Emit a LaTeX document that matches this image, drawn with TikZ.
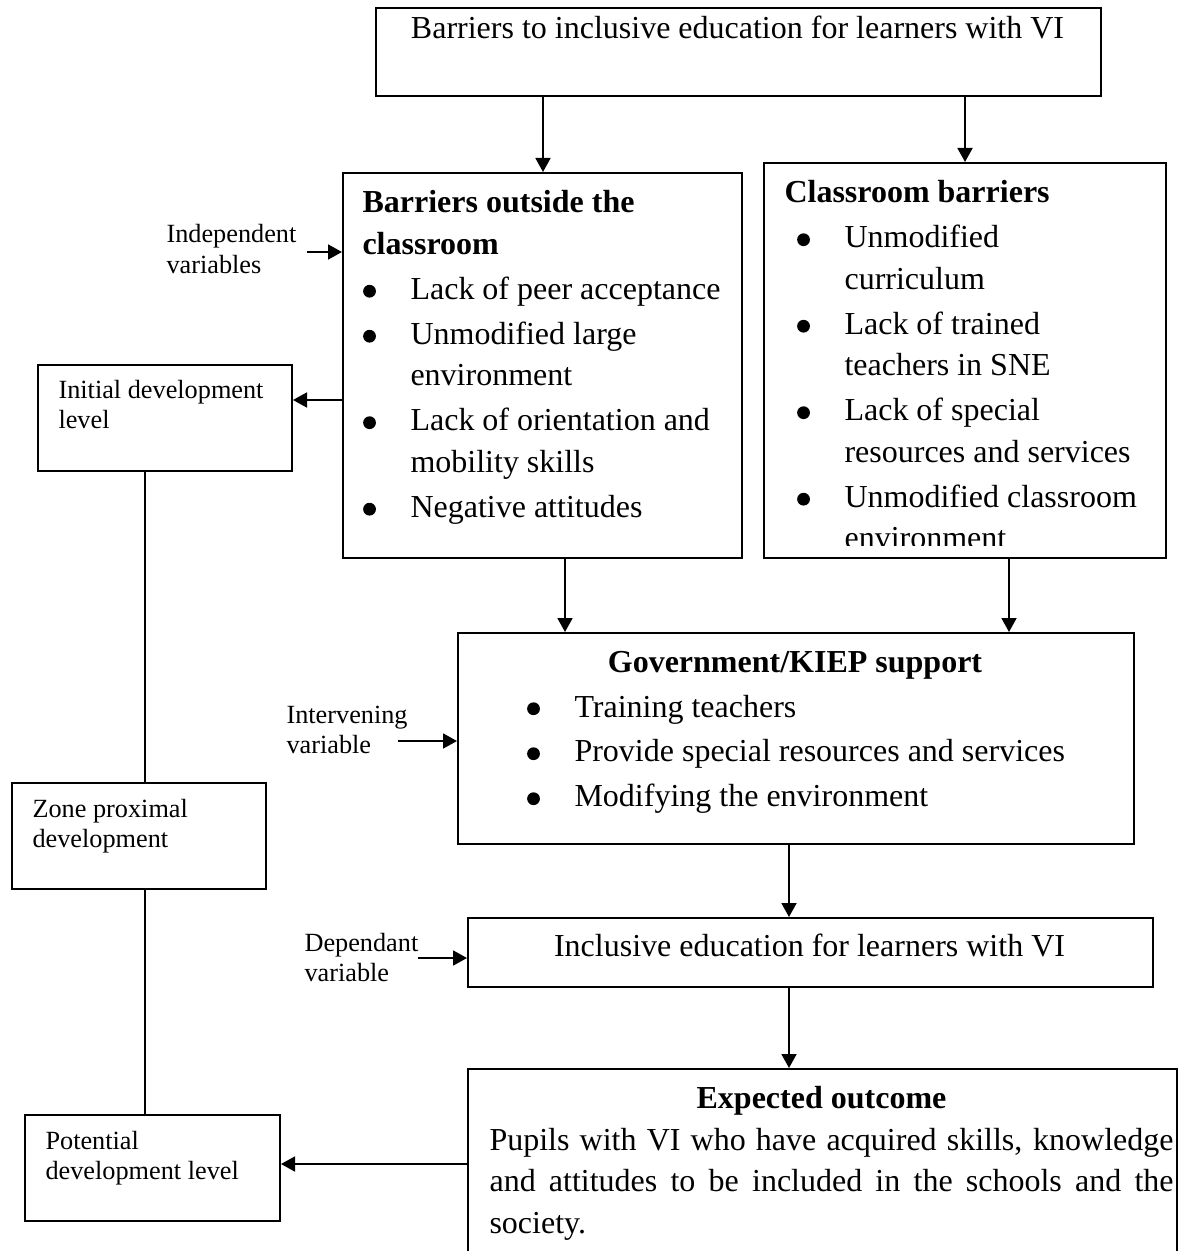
\documentclass[tikz,border=0pt]{standalone}
\usepackage{fontspec}
\setmainfont{Liberation Serif}
\usetikzlibrary{arrows.meta}

\newlength\pxu
\setlength\pxu{0.375pt}
\newcommand{\mainfnt}{\fontsize{12}{15.56}\selectfont}
\newcommand{\smallfnt}{\fontsize{9.85}{11.4}\selectfont}
\newcommand{\dotmark}{\tikz[baseline=-3.1pt]\fill (0,0) circle (2.4pt);}
\newcommand{\blt}[2][7]{\par\noindent\hangindent=\dimexpr#1\pxu+41\pxu\relax\hangafter=1
  \makebox[\dimexpr#1\pxu+41\pxu\relax][l]{\hspace*{#1\pxu}\makebox[0pt]{\dotmark}}#2}

\tikzset{
  box/.style={draw, line width=0.75pt, inner sep=0pt, anchor=north west},
  boxsize/.style 2 args={minimum width=#1*0.375pt, minimum height=#2*0.375pt},
  txt/.style={inner sep=0pt, anchor=base west, font=\mainfnt},
  lbl/.style={inner sep=0pt, anchor=base west, font=\smallfnt},
  arr/.style={line width=0.75pt, -{Triangle[length=5.25pt,width=5.6pt]}},
  link/.style={line width=0.75pt}
}

\begin{document}
\begin{tikzpicture}[x=0.375pt,y=-0.375pt]
\useasboundingbox (0,0) rectangle (1179,1251);

\node[box,boxsize={725}{88}] (barriers) at (375,7) {};
\node[box,boxsize={399}{385}] (outside) at (342,172) {};
\node[box,boxsize={402}{395}] (classroom) at (763,162) {};
\node[box,boxsize={676}{211}] (support) at (457,632) {};
\node[box,boxsize={685}{69}] (inclusive) at (467,917) {};
\node[box,boxsize={709}{200}] (outcome) at (467,1068) {};
\node[box,boxsize={254}{106}] (initial) at (37,364) {};
\node[box,boxsize={254}{106}] (zone) at (11,782) {};
\node[box,boxsize={255}{106}] (potential) at (24,1114) {};

\node[txt,anchor=base] (barrierstext) at (737.5,39) {Barriers to inclusive education for learners with VI};
\node[txt] (outsidetext) at (362,213) {\parbox[t]{372\pxu}{\raggedright\setlength{\parskip}{3.5\pxu}%
\textbf{Barriers outside the\newline classroom}
\blt{Lack of peer acceptance}
\blt{Unmodified large\newline environment}
\blt{Lack of orientation and\newline mobility skills}
\blt{Negative attitudes}}};
\begin{scope}
\clip (763,162) rectangle (1165,545);
\node[txt] (classroomtext) at (784,203) {\parbox[t]{375\pxu}{\raggedright\setlength{\parskip}{3.5\pxu}%
\textbf{Classroom barriers}
\blt[19]{Unmodified\newline curriculum}
\blt[19]{Lack of trained\newline teachers in SNE}
\blt[19]{Lack of special\newline resources and services}
\blt[19]{Unmodified classroom\newline environment}}};
\end{scope}
\node[txt,anchor=base,font=\mainfnt\bfseries] (supporttitle) at (795,672) {Government/KIEP support};
\node[txt] (supporttext) at (526,717) {\parbox[t]{560\pxu}{\raggedright\setlength{\parskip}{3.5\pxu}%
\blt{Training teachers}
\blt{Provide special resources and services}
\blt{Modifying the environment}}};
\node[txt,anchor=base] (inclusivetext) at (809.5,956) {Inclusive education for learners with VI};
\node[txt,anchor=base,font=\mainfnt\bfseries] (outcometitle) at (821.5,1108) {Expected outcome};
\node[txt] (outcometext) at (489,1150) {\parbox[t]{684\pxu}{\tolerance=9999\hbadness=10000
Pupils with VI who have acquired skills, knowledge\linebreak{} and attitudes to be included in the schools and the\linebreak{} society.}};

\node[lbl] (initialtext) at (58,398) {\parbox[t]{230\pxu}{\raggedright Initial development\newline level}};
\node[lbl] (zonetext) at (32,817) {\parbox[t]{230\pxu}{\raggedright Zone proximal\newline development}};
\node[lbl] (potentialtext) at (45,1149) {\parbox[t]{230\pxu}{\raggedright Potential\newline development level}};
\node[lbl] (indeptext) at (166,243) {\parbox[t]{140\pxu}{\raggedright Independent\newline variables}};
\node[lbl] (intervtext) at (286,723) {\parbox[t]{140\pxu}{\raggedright Intervening\newline variable}};
\node[lbl] (dependtext) at (304,951) {\parbox[t]{140\pxu}{\raggedright Dependant\newline variable}};

\coordinate (xa) at (543,0);
\coordinate (xb) at (965,0);
\coordinate (xc) at (565,0);
\coordinate (xd) at (1009,0);
\coordinate (xe) at (789,0);
\coordinate (spine) at (145,0);
\coordinate (ya) at (0,400);
\coordinate (yb) at (0,1164);
\coordinate (indep) at (307,252);
\coordinate (interv) at (398,741);
\coordinate (depend) at (418,958);

\draw[arr] (barriers.south -| xa) -- (outside.north -| xa);
\draw[arr] (barriers.south -| xb) -- (classroom.north -| xb);
\draw[arr] (outside.south -| xc) -- (support.north -| xc);
\draw[arr] (classroom.south -| xd) -- (support.north -| xd);
\draw[arr] (support.south -| xe) -- (inclusive.north -| xe);
\draw[arr] (inclusive.south -| xe) -- (outcome.north -| xe);

\draw[arr] (outside.west |- ya) -- (initial.east |- ya);
\draw[arr] (outcome.west |- yb) -- (potential.east |- yb);
\draw[arr] (indep) -- (indep -| outside.west);
\draw[arr] (interv) -- (interv -| support.west);
\draw[arr] (depend) -- (depend -| inclusive.west);

\draw[link] (initial.south -| spine) -- (zone.north -| spine);
\draw[link] (zone.south -| spine) -- (potential.north -| spine);
\end{tikzpicture}
\end{document}
